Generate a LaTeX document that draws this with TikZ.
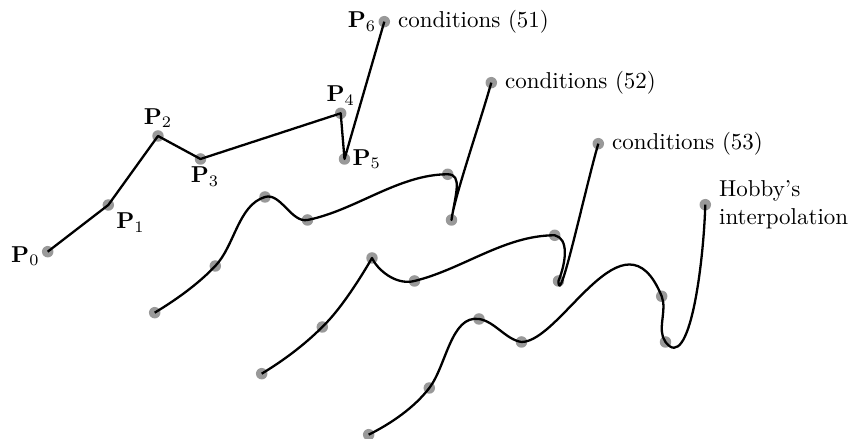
\documentclass[tikz,border=0pt]{standalone}
\usepackage{amsfonts,amssymb,amsmath}
\usepackage{tikz}

\tikzset{
  ptdot/.style={fill=black!40},
  curve/.style={line width=1pt,line join=round},
  cond/.style={right=2.5pt,align=left}
}

\begin{document}
\begin{tikzpicture}[x=1.53mm,y=1.53mm]
\useasboundingbox (0,0) rectangle (85.3,43.9);
% the same seven points, four times
\foreach \s/\n in {0/a,1/b,2/c,3/d}{
  \begin{scope}[shift={(\s*10.7,-\s*6.1)}]
  \foreach \i/\x/\y in {0/4.77/18.73,1/10.83/23.4,2/15.8/30.3,3/20.05/28,4/34.07/32.57,5/34.45/28,6/38.43/41.73}
    \coordinate (\n\i) at (\x,\y);
  \end{scope}
}
\foreach \n in {a,b,c,d}
  \foreach \i in {0,...,6}
    \fill[ptdot] (\n\i) circle (2.5pt);
% polygon
\draw[curve](a0)--(a1)--(a2)--(a3)--(a4)--(a5)--(a6);
\node[left,yshift=-2pt] (la0) at (a0) {$\mathbf{P}_0$};
\node[below right] (la1) at (a1) {$\mathbf{P}_1$};
\node[above] (la2) at (a2) {$\mathbf{P}_2$};
\node[below,xshift=2pt] (la3) at (a3) {$\mathbf{P}_3$};
\node[above] (la4) at (a4) {$\mathbf{P}_4$};
\node[right] (la5) at (a5) {$\mathbf{P}_5$};
\node[left] (la6) at (a6) {$\mathbf{P}_6$};
\node[cond] (ca) at (a6) {conditions (51)};
% second curve
\draw[curve](b0)..controls +(2.14,1.29) and +(-1.72,-1.81)..(b1)
  ..controls +(1.95,2.04) and +(-2.68,-0.8)..(b2)
  ..controls +(1.56,0.47) and +(-1.6,-0.32)..(b3)
  ..controls +(4.8,0.96) and +(-4.9,0)..(b4)
  ..controls +(1.5,0) and +(0.4,2.6)..(b5)
  ..controls +(0.2,2) and +(-1.22,-4.3)..(b6);
\node[cond] (cb) at (b6) {conditions (52)};
% third curve
\draw[curve](c0)..controls +(2.14,1.29) and +(-1.8,-1.8)..(c1)
  ..controls +(2.02,1.93) and +(-0.75,-1.31)..(c2)
  ..controls +(0.48,-1.08) and +(-1.94,-0.48)..(c3)
  ..controls +(4.85,1.2) and +(-5,0)..(c4)
  ..controls +(1.4,-0.3) and +(0.8,2)..(c5)
  ..controls +(0.05,-3) and +(-1.34,-4.6)..(c6);
\node[cond] (cc) at (c6) {conditions (53)};
% Hobby
\draw[curve](d0)..controls +(2.24,1.12) and +(-1.52,-1.98)..(d1)
  ..controls +(1.7,2.2) and +(-2.8,0.42)..(d2)
  ..controls +(1.58,-0.24) and +(-1.58,0.24)..(d3)
  ..controls +(4,0) and +(-3.77,9.23)..(d4)
  ..controls +(0.57,-1.4) and +(-0.9,1.2)..(d5)
  ..controls +(2.4,-3.2) and +(-0.18,-6)..(d6);
\node[cond] (cd) at (d6) {Hobby's\\interpolation};
\end{tikzpicture}
\end{document}
